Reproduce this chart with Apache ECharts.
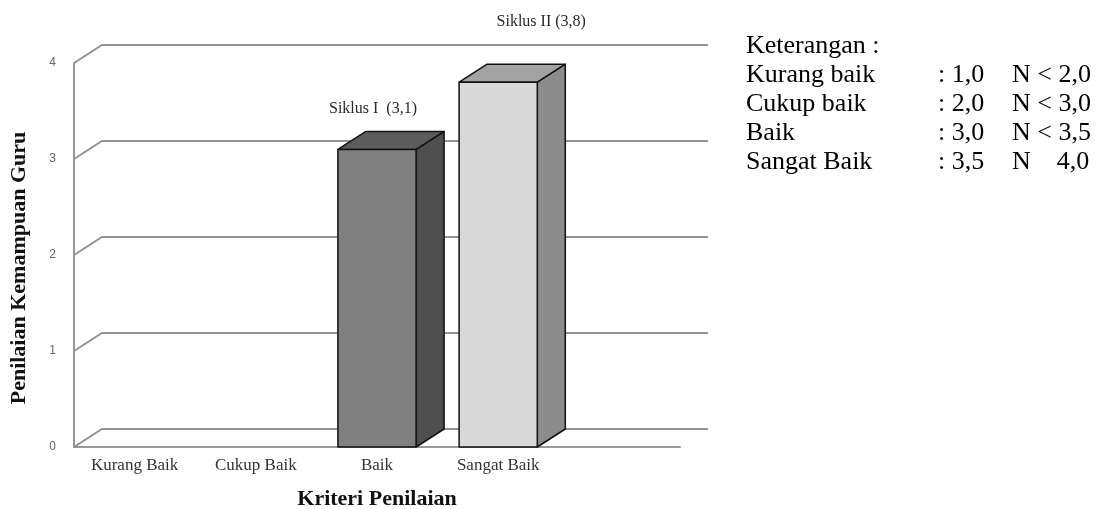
<!DOCTYPE html>
<html>
<head>
<meta charset="utf-8">
<title>Penilaian Kemampuan Guru</title>
<script src="https://cdn.jsdelivr.net/npm/echarts@6/dist/echarts.min.js"></script>
<style>
  html, body { margin: 0; padding: 0; background: #fff; }
  #chart { width: 1102px; height: 509px; }
</style>
</head>
<body>
<div id="chart"></div>
<script>
// values
const categories = ['Kurang Baik', 'Cukup Baik', 'Baik', 'Sangat Baik', '']
const barValues = [null, null, 3.1, 3.8]
const barLabels = ['', '', 'Siklus I  (3,1)', 'Siklus II (3,8)']
const yTicks = [0, 1, 2, 3, 4]

const noteTitle = 'Keterangan :'
const noteNames = ['Kurang baik', 'Cukup baik', 'Baik', 'Sangat Baik']
const noteFrom = [': 1,0', ': 2,0', ': 3,0', ': 3,5']
const noteTo = ['N < 2,0', 'N < 3,0', 'N < 3,5', 'N    4,0']

// 3d look: depth of the box (px)
const DX = 28
const DY = -18
const SERIF = '"Liberation Serif", "DejaVu Serif", serif'

// face colours per category (front / side / top)
const faces = [
  null, null,
  { front: '#808080', side: '#4f4f4f', top: '#5c5c5c' },
  { front: '#d9d9d9', side: '#8c8c8c', top: '#a3a3a3' }
]
// where the excel labels ended up, relative to the bar top
const labelShift = [null, null, [-4, -41], [43, -60]]

const chart = echarts.init(document.getElementById('chart'))

function renderWall(params, api) {
  const cs = params.coordSys
  const y = api.coord([0, api.value(1)])[1]
  const x0 = cs.x
  const x1 = cs.x + cs.width
  return {
    type: 'polyline',
    shape: { points: [[x0, y], [x0 + DX, y + DY], [x1 + DX, y + DY]] },
    style: { stroke: '#929292', lineWidth: 2, fill: null }
  }
}

function renderBar(params, api) {
  const idx = api.value(0)
  const val = api.value(1)
  const top = api.coord([idx, val])
  const base = api.coord([idx, 0])
  const w = api.size([1, 0])[0] * 0.645
  const l = top[0] - w / 2
  const r = top[0] + w / 2
  const t = top[1]
  const b = base[1]
  const c = faces[idx]
  const edge = { stroke: '#111', lineWidth: 1.5, lineJoin: 'round' }
  const sh = labelShift[idx]
  return {
    type: 'group',
    children: [
      { type: 'polygon', shape: { points: [[r, b], [r + DX, b + DY], [r + DX, t + DY], [r, t]] },
        style: Object.assign({ fill: c.side }, edge) },
      { type: 'polygon', shape: { points: [[l, t], [r, t], [r + DX, t + DY], [l + DX, t + DY]] },
        style: Object.assign({ fill: c.top }, edge) },
      { type: 'rect', shape: { x: l, y: t, width: w, height: b - t },
        style: Object.assign({ fill: c.front }, edge) },
      { type: 'text', x: top[0] + sh[0], y: t + sh[1],
        style: { text: barLabels[idx], fill: '#2a2a2a', font: '16px ' + SERIF, align: 'center', verticalAlign: 'middle' } }
    ]
  }
}

const barData = []
barValues.forEach((v, i) => {
  if (v != null) barData.push([i, v])
})

const notes = [{
  type: 'text', left: 746, top: 45 - 12,
  style: { text: noteTitle, font: '26px ' + SERIF, fill: '#000' }
}]
noteNames.forEach((n, i) => {
  const y = 74 + i * 29 - 12
  notes.push({ type: 'text', left: 746, top: y, style: { text: n, font: '26px ' + SERIF, fill: '#000' } })
  notes.push({ type: 'text', left: 938, top: y, style: { text: noteFrom[i], font: '26px ' + SERIF, fill: '#000' } })
  notes.push({ type: 'text', left: 1012, top: y, style: { text: noteTo[i], font: '26px ' + SERIF, fill: '#000' } })
})

chart.setOption({
  animation: false,
  backgroundColor: '#fff',
  grid: { left: 74, top: 63, width: 606, height: 384, outerBoundsMode: 'none' },
  xAxis: {
    type: 'category',
    data: categories,
    axisLine: { lineStyle: { color: '#999', width: 2 } },
    axisTick: { show: false },
    axisLabel: { interval: 0, margin: 10, color: '#333', fontFamily: SERIF, fontSize: 17 },
    name: 'Kriteri Penilaian',
    nameLocation: 'middle',
    nameGap: 41,
    nameTextStyle: { fontFamily: SERIF, fontWeight: 'bold', fontSize: 22, color: '#111' }
  },
  yAxis: {
    type: 'value',
    min: 0,
    max: 4,
    interval: 1,
    axisLine: { show: true, lineStyle: { color: '#999', width: 2 } },
    axisTick: { show: false },
    splitLine: { show: false },
    axisLabel: { margin: 18, color: '#666', fontFamily: 'Liberation Sans, sans-serif', fontSize: 12,
      padding: [7, 0, 0, 0] },
    name: 'Penilaian Kemampuan Guru',
    nameLocation: 'middle',
    nameGap: 44,
    nameTextStyle: { fontFamily: SERIF, fontWeight: 'bold', fontSize: 22, color: '#111',
      padding: [0, 26, 0, 0] }
  },
  graphic: notes,
  series: [{
    type: 'custom',
    name: 'wall',
    z: 1,
    silent: true,
    renderItem: renderWall,
    data: yTicks.map(v => [0, v])
  }, {
    type: 'custom',
    name: 'Kemampuan Guru',
    z: 3,
    renderItem: renderBar,
    data: barData
  }]
})
</script>
</body>
</html>
